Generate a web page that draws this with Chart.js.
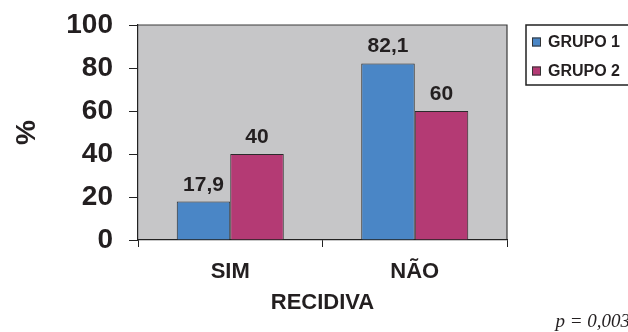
<!DOCTYPE html>
<html>
<head>
<meta charset="utf-8">
<script src="https://cdn.jsdelivr.net/npm/chart.js@4/dist/chart.umd.min.js"></script>
<style>
  html, body { margin: 0; padding: 0; background: #ffffff; }
  #wrap { width: 628px; height: 332px; position: relative; }
</style>
</head>
<body>
<div id="wrap"><canvas id="c" width="628" height="332"></canvas></div>
<script>
// Recurrence (%) by group
const categories = ['SIM', 'NÃO'];
const grupo1 = [17.9, 82.1];
const grupo2 = [40, 60];
const seriesNames = ['GRUPO 1', 'GRUPO 2'];
const yTicks = [0, 20, 40, 60, 80, 100];
const xTitle = 'RECIDIVA';
const yTitle = '%';
const pValue = 'p = 0,003';

const INK = '#231f20';
const SANS = '"Liberation Sans", Arial, Helvetica, sans-serif';
const SERIF = '"Liberation Serif", "Times New Roman", serif';

const fmt = v => String(v).replace('.', ',');

// Gray plot area with a frame on top and right
const plotFrame = {
  id: 'plotFrame',
  beforeDraw(chart) {
    const { ctx, chartArea: a } = chart;
    ctx.save();
    ctx.fillStyle = '#c6c6c8';
    ctx.fillRect(a.left, a.top, a.right - a.left, a.bottom - a.top);
    ctx.strokeStyle = '#3a3a3a';
    ctx.lineWidth = 1.2;
    ctx.beginPath();
    ctx.moveTo(a.left, a.top);
    ctx.lineTo(a.right, a.top);
    ctx.lineTo(a.right, a.bottom);
    ctx.stroke();
    ctx.restore();
  }
};

// Value labels above each bar
const valueLabels = {
  id: 'valueLabels',
  afterDatasetsDraw(chart) {
    const { ctx } = chart;
    ctx.save();
    ctx.fillStyle = INK;
    ctx.font = 'bold 21px ' + SANS;
    ctx.textAlign = 'center';
    ctx.textBaseline = 'alphabetic';
    chart.data.datasets.forEach((ds, i) => {
      chart.getDatasetMeta(i).data.forEach((bar, j) => {
        ctx.fillText(fmt(ds.data[j]), bar.x, bar.y - 11);
      });
    });
    ctx.restore();
  }
};

// Boxed legend on the right and the p-value note
const sideNotes = {
  id: 'sideNotes',
  afterDraw(chart) {
    const { ctx } = chart;
    ctx.save();
    ctx.strokeStyle = '#222';
    ctx.lineWidth = 1.5;
    ctx.strokeRect(526, 25, 120, 60);
    ctx.font = 'bold 16px ' + SANS;
    ctx.textBaseline = 'middle';
    ctx.textAlign = 'left';
    chart.data.datasets.forEach((ds, i) => {
      const cy = 42 + i * 29;
      ctx.fillStyle = ds.backgroundColor;
      ctx.fillRect(532, cy - 4.5, 9, 9);
      ctx.strokeStyle = '#333';
      ctx.lineWidth = 1;
      ctx.strokeRect(532.5, cy - 4, 8, 8);
      ctx.fillStyle = INK;
      ctx.fillText(ds.label, 548, cy + 1);
    });
    ctx.font = 'italic 19px ' + SERIF;
    ctx.textAlign = 'right';
    ctx.textBaseline = 'alphabetic';
    ctx.fillStyle = INK;
    ctx.fillText(pValue, 630, 327);
    ctx.restore();
  }
};

new Chart(document.getElementById('c'), {
  type: 'bar',
  data: {
    labels: categories,
    datasets: [
      { label: seriesNames[0], data: grupo1, backgroundColor: '#4a86c6', borderColor: '#2b2b2b', borderWidth: 1 },
      { label: seriesNames[1], data: grupo2, backgroundColor: '#b43a74', borderColor: '#2b2b2b', borderWidth: 1 }
    ]
  },
  options: {
    responsive: false,
    animation: false,
    devicePixelRatio: 1,
    layout: { padding: { top: 25, right: 121, left: 0, bottom: 0 } },
    datasets: { bar: { categoryPercentage: 0.58, barPercentage: 1.0 } },
    plugins: { legend: { display: false }, tooltip: { enabled: false } },
    scales: {
      x: {
        offset: true,
        grid: { offset: true, drawOnChartArea: false, tickLength: 7, color: '#222', lineWidth: 1 },
        border: { display: true, color: '#222', width: 1.2 },
        ticks: { color: INK, font: { family: SANS, size: 22, weight: 'bold' }, padding: 12, maxRotation: 0 },
        title: { display: true, text: xTitle, color: INK, font: { family: SANS, size: 22, weight: 'bold' }, padding: { top: 0, bottom: 16 } },
        afterFit(s) { s.height = 92; s.paddingLeft = 0; s.paddingRight = 0; }
      },
      y: {
        min: 0, max: 100,
        afterBuildTicks(s) { s.ticks = yTicks.map(v => ({ value: v })); },
        grid: { drawOnChartArea: false, tickLength: 9, color: '#222', lineWidth: 1 },
        border: { display: true, color: '#222', width: 1.2 },
        ticks: { color: INK, font: { family: SANS, size: 28, weight: 'bold' }, padding: 16 },
        title: { display: true, text: yTitle, color: INK, font: { family: SANS, size: 28, weight: 'bold' }, padding: { top: 10, bottom: 0 } },
        afterFit(s) { s.width = 138; s.paddingTop = 0; s.paddingBottom = 0; }
      }
    }
  },
  plugins: [plotFrame, valueLabels, sideNotes]
});
</script>
</body>
</html>
